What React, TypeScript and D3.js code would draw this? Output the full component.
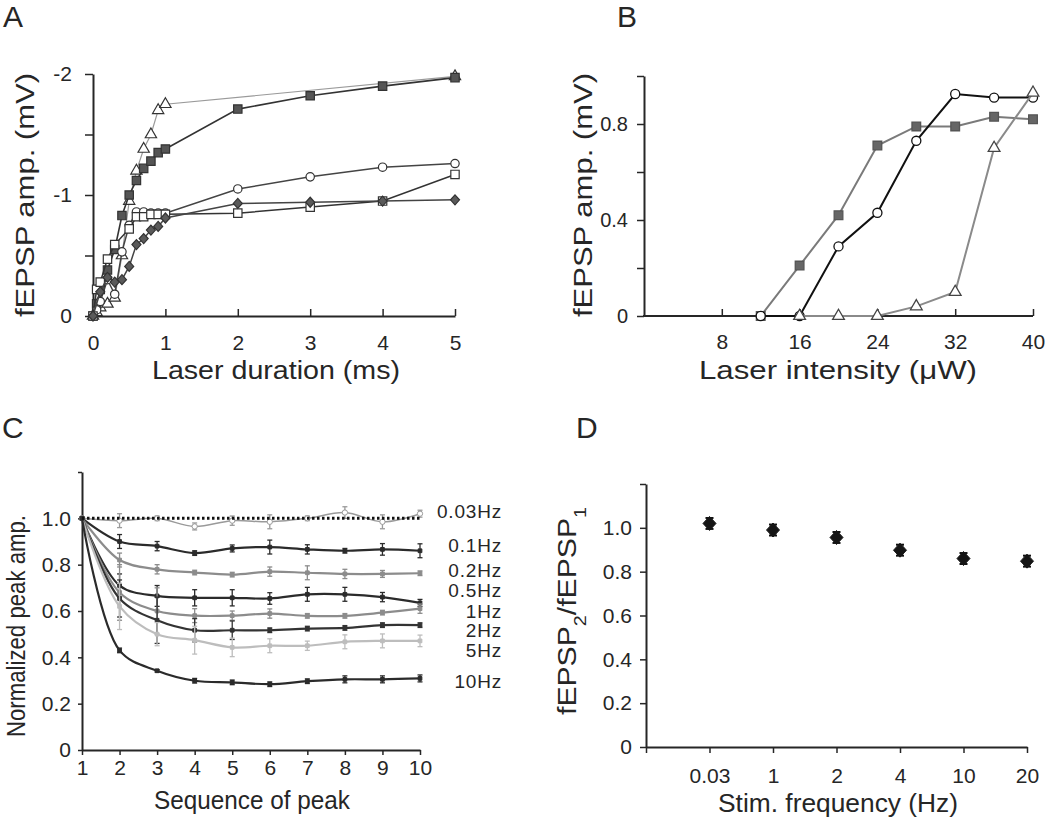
import React, { useEffect, useRef } from 'react';
import * as d3 from 'd3';

// ---- Panel A: fEPSP amplitude vs laser duration (ms) ----
const aTriX = [0, 0.05, 0.1, 0.2, 0.3, 0.4, 0.5, 0.6, 0.7, 0.8, 0.9, 1, 5];
const aTriY = [0, -0.03, -0.07, -0.1, -0.15, -0.5, -0.95, -1.2, -1.38, -1.5, -1.7, -1.75, -1.98];
const aSqX = [0, 0.05, 0.1, 0.2, 0.3, 0.4, 0.5, 0.6, 0.7, 0.8, 0.9, 1, 2, 3, 4, 5];
const aSqY = [0, -0.1, -0.22, -0.38, -0.55, -0.83, -1.0, -1.12, -1.22, -1.28, -1.35, -1.38, -1.71, -1.82, -1.9, -1.97];
const aCircX = [0, 0.05, 0.1, 0.2, 0.3, 0.4, 0.5, 0.6, 0.7, 0.8, 0.9, 1, 2, 3, 4, 5];
const aCircY = [0, -0.05, -0.12, -0.3, -0.18, -0.53, -0.75, -0.86, -0.86, -0.85, -0.85, -0.85, -1.05, -1.15, -1.23, -1.26];
const aOSqX = [0, 0.05, 0.1, 0.2, 0.3, 0.5, 0.6, 0.7, 0.8, 0.9, 1, 2, 3, 4, 5];
const aOSqY = [0, -0.22, -0.28, -0.47, -0.59, -0.72, -0.82, -0.82, -0.84, -0.84, -0.84, -0.85, -0.9, -0.95, -1.17];
const aDiaX = [0, 0.1, 0.2, 0.3, 0.4, 0.5, 0.6, 0.7, 0.8, 0.9, 1, 2, 3, 4, 5];
const aDiaY = [0, -0.2, -0.32, -0.28, -0.3, -0.41, -0.59, -0.64, -0.71, -0.74, -0.81, -0.93, -0.94, -0.95, -0.96];
const aXTicks = [0, 1, 2, 3, 4, 5];
const aYTicks = [0, -0.5, -1, -1.5, -2];

// ---- Panel B: fEPSP amplitude vs laser intensity (uW) ----
const bX = [12, 16, 20, 24, 28, 32, 36, 40];
const bSq = [0, 0.21, 0.42, 0.71, 0.79, 0.79, 0.83, 0.82];
const bCirc = [0, 0, 0.29, 0.43, 0.73, 0.925, 0.91, 0.91];
const bTriX = [16, 20, 24, 28, 32, 36, 40];
const bTri = [0, 0, 0, 0.04, 0.1, 0.7, 0.93];
const bXTicks = [8, 16, 24, 32, 40];
const bYTicks = [0, 0.2, 0.4, 0.6, 0.8, 1.0];

// ---- Panel C: normalized peak amplitude vs sequence of peak ----
const seq = [1, 2, 3, 4, 5, 6, 7, 8, 9, 10];
const cNames = ['0.03Hz', '0.1Hz', '0.2Hz', '0.5Hz', '1Hz', '2Hz', '5Hz', '10Hz'];
const c003 = [1.0, 0.99, 1.0, 0.965, 0.99, 0.985, 1.0, 1.025, 0.985, 1.02];
const c003e = [0, 0.03, 0.01, 0.015, 0.02, 0.03, 0.01, 0.025, 0.03, 0.015];
const c01 = [1, 0.9, 0.88, 0.85, 0.87, 0.876, 0.866, 0.86, 0.866, 0.86];
const c01e = [0, 0.03, 0.02, 0.01, 0.015, 0.03, 0.02, 0.01, 0.025, 0.03];
const c02 = [1, 0.82, 0.78, 0.766, 0.757, 0.77, 0.765, 0.76, 0.76, 0.763];
const c02e = [0, 0.03, 0.02, 0.01, 0.01, 0.02, 0.03, 0.02, 0.015, 0.01];
const c05 = [1, 0.71, 0.665, 0.657, 0.657, 0.654, 0.672, 0.672, 0.66, 0.635];
const c05e = [0, 0.05, 0.045, 0.035, 0.035, 0.025, 0.03, 0.03, 0.02, 0.015];
const c1 = [1, 0.68, 0.6, 0.58, 0.58, 0.589, 0.579, 0.579, 0.593, 0.61];
const c1e = [0, 0.12, 0.1, 0.03, 0.02, 0.02, 0.01, 0.01, 0.01, 0.02];
const c2 = [1, 0.654, 0.56, 0.517, 0.517, 0.517, 0.524, 0.527, 0.539, 0.539];
const c2e = [0, 0.08, 0.1, 0.05, 0.04, 0.01, 0.01, 0.01, 0.01, 0.01];
const c5 = [1, 0.62, 0.5, 0.474, 0.443, 0.45, 0.45, 0.467, 0.471, 0.471];
const c5e = [0, 0.1, 0.05, 0.06, 0.04, 0.03, 0.02, 0.03, 0.03, 0.025];
const c10 = [1, 0.43, 0.342, 0.299, 0.292, 0.284, 0.297, 0.305, 0.305, 0.309];
const c10e = [0, 0.01, 0.005, 0.01, 0.01, 0.01, 0.01, 0.015, 0.015, 0.015];
const cLabelAt = [1.03, 0.884, 0.776, 0.69, 0.6, 0.515, 0.428, 0.297];
const cYTicks = [0, 0.2, 0.4, 0.6, 0.8, 1.0, 1.2];

// ---- Panel D: paired-pulse ratio vs stimulation frequency ----
const dCats = ['0.03', '1', '2', '4', '10', '20'];
const dVals = [1.02, 0.99, 0.956, 0.898, 0.86, 0.848];
const dErrs = [0.025, 0.025, 0.025, 0.025, 0.025, 0.025];
const dYTicks = [0, 0.2, 0.4, 0.6, 0.8, 1.0, 1.2];

const FONT = '"Liberation Sans", Arial, Helvetica, sans-serif';
const INK = '#262626';

// diamond marker with independent half-width / half-height
const diamond = (hw: number, hh: number) => `M0,${-hh}L${hw},0L0,${hh}L${-hw},0Z`;

const App: React.FC = () => {
  const svgRef = useRef<SVGSVGElement>(null);

  useEffect(() => {
    if (!svgRef.current) return;
    const svg = d3.select(svgRef.current);
    svg.selectAll('*').remove();
    svg.append('rect').attr('width', 1050).attr('height', 827).attr('fill', '#fff');

    const styleAxis = (g: any, fs: number) => {
      g.select('.domain').attr('stroke', INK).attr('stroke-width', 2);
      g.selectAll('.tick line').attr('stroke', INK).attr('stroke-width', 1.5);
      g.selectAll('.tick text')
        .attr('fill', INK)
        .style('font-size', `${fs}px`)
        .style('font-family', FONT);
    };

    const title = (x: number, y: number, txt: string, size: number, len: number, rot = false) => {
      const t = svg.append('text')
        .attr('transform', rot ? `translate(${x},${y}) rotate(-90)` : `translate(${x},${y})`)
        .attr('text-anchor', 'middle')
        .attr('fill', INK)
        .style('font-family', FONT)
        .style('font-size', `${size}px`)
        .attr('textLength', len)
        .attr('lengthAdjust', 'spacingAndGlyphs')
        .text(txt);
      return t;
    };

    const letter = (x: number, y: number, txt: string) => {
      svg.append('text').attr('x', x).attr('y', y).attr('fill', INK)
        .style('font-family', FONT).style('font-size', '30px').text(txt);
    };

    const sym = (type: d3.SymbolType, size: number) => d3.symbol().type(type).size(size)();

    // ================= Panel A =================
    {
      const x = d3.scaleLinear().domain([0, 5]).range([93, 455]);
      const y = d3.scaleLinear().domain([0, -2]).range([316, 74]);
      const gx = svg.append('g').attr('transform', 'translate(0,316)')
        .call(d3.axisBottom(x).tickValues(aXTicks).tickSizeInner(-7).tickSizeOuter(0).tickPadding(19).tickFormat(d => String(d)));
      styleAxis(gx, 21);
      const gy = svg.append('g').attr('transform', 'translate(93,0)')
        .call(d3.axisLeft(y).tickValues(aYTicks).tickSizeInner(8).tickSizeOuter(0).tickPadding(13)
          .tickFormat(d => (Number.isInteger(+d) ? String(d) : '')));
      styleAxis(gy, 21);

      const series = [
        { xs: aTriX, ys: aTriY, line: '#9a9a9a', lw: 1.2, d: sym(d3.symbolTriangle, 55), fill: '#fff', stroke: '#333' },
        { xs: aSqX, ys: aSqY, line: '#333', lw: 1.6, d: sym(d3.symbolSquare, 70), fill: '#555', stroke: '#333' },
        { xs: aCircX, ys: aCircY, line: '#444', lw: 1.5, d: sym(d3.symbolCircle, 55), fill: '#fff', stroke: '#333' },
        { xs: aOSqX, ys: aOSqY, line: '#333', lw: 1.5, d: sym(d3.symbolSquare, 70), fill: '#fff', stroke: '#333' },
        { xs: aDiaX, ys: aDiaY, line: '#444', lw: 1.5, d: diamond(4.5, 5), fill: '#5a5a5a', stroke: '#333' },
      ];
      series.forEach(s => {
        const pts = s.xs.map((v, i) => [v, s.ys[i]] as [number, number]);
        svg.append('path').datum(pts)
          .attr('d', d3.line().x(d => x(d[0])).y(d => y(d[1])))
          .attr('fill', 'none').attr('stroke', s.line).attr('stroke-width', s.lw);
        svg.append('g').selectAll('path').data(pts).join('path')
          .attr('transform', d => `translate(${x(d[0])},${y(d[1])})`)
          .attr('d', s.d)
          .attr('fill', s.fill).attr('stroke', s.stroke).attr('stroke-width', 1.2);
      });

      title(34, 195, 'fEPSP amp. (mV)', 26, 244, true);
      title(276, 379, 'Laser duration (ms)', 26, 248);
      letter(3, 27, 'A');
    }

    // ================= Panel B =================
    {
      const x = d3.scaleLinear().domain([0, 40]).range([644, 1033]);
      const y = d3.scaleLinear().domain([0, 1]).range([316, 76]);
      const gx = svg.append('g').attr('transform', 'translate(0,316)')
        .call(d3.axisBottom(x).tickValues(bXTicks).tickSizeInner(-7).tickSizeOuter(0).tickPadding(18).tickFormat(d => String(d)));
      gx.select('.domain').attr('d', `M${x(0) - 1},0H${x(40)}`);
      styleAxis(gx, 21);
      const gy = svg.append('g').attr('transform', 'translate(644,0)')
        .call(d3.axisLeft(y).tickValues(bYTicks).tickSizeInner(7).tickSizeOuter(0).tickPadding(9)
          .tickFormat(d => (+d === 0 ? '0' : [0.4, 0.8].some(v => Math.abs(v - +d) < 1e-6) ? d3.format('.1f')(+d) : '')));
      styleAxis(gy, 20);

      const series = [
        { xs: bX, ys: bSq, line: '#7a7a7a', d: sym(d3.symbolSquare, 75), fill: '#666', stroke: '#555' },
        { xs: bX, ys: bCirc, line: '#111', d: sym(d3.symbolCircle, 65), fill: '#fff', stroke: '#111' },
        { xs: bTriX, ys: bTri, line: '#8a8a8a', d: sym(d3.symbolTriangle, 60), fill: '#fff', stroke: '#444' },
      ];
      series.forEach(s => {
        const pts = s.xs.map((v, i) => [v, s.ys[i]] as [number, number]);
        svg.append('path').datum(pts)
          .attr('d', d3.line().x(d => x(d[0])).y(d => y(d[1])))
          .attr('fill', 'none').attr('stroke', s.line).attr('stroke-width', 2);
        svg.append('g').selectAll('path').data(pts).join('path')
          .attr('transform', d => `translate(${x(d[0])},${y(d[1])})`)
          .attr('d', s.d)
          .attr('fill', s.fill).attr('stroke', s.stroke).attr('stroke-width', 1.3);
      });

      title(592, 195, 'fEPSP amp. (mV)', 25, 244, true);
      const t = title(838, 379, '', 26, 278);
      t.append('tspan').text('Laser intensity (');
      t.append('tspan').text('\u03bc');
      t.append('tspan').text('W)');
      letter(617, 27, 'B');
    }

    // ================= Panel C =================
    {
      const x = d3.scaleLinear().domain([1, 10]).range([82, 420]);
      const y = d3.scaleLinear().domain([0, 1.2]).range([750, 472]);
      const gx = svg.append('g').attr('transform', 'translate(0,750)')
        .call(d3.axisBottom(x).tickValues(seq).tickSizeInner(5).tickSizeOuter(0).tickPadding(5).tickFormat(d => String(d)));
      styleAxis(gx, 21);
      const gy = svg.append('g').attr('transform', 'translate(82,0)')
        .call(d3.axisLeft(y).tickValues(cYTicks).tickSizeInner(4).tickSizeOuter(0).tickPadding(7)
          .tickFormat(d => (+d === 0 ? '0' : +d > 1.1 ? '' : d3.format('.1f')(+d))));
      styleAxis(gy, 21);

      const vals = [c003, c01, c02, c05, c1, c2, c5, c10];
      const errs = [c003e, c01e, c02e, c05e, c1e, c2e, c5e, c10e];
      const colors = ['#9a9a9a', '#2b2b2b', '#8c8c8c', '#2b2b2b', '#8c8c8c', '#333', '#bdbdbd', '#2b2b2b'];
      const line = d3.line<number>().x((_, i) => x(seq[i])).y(d => y(d)).curve(d3.curveCatmullRom.alpha(0.5));

      vals.forEach((vs, k) => {
        const col = colors[k];
        svg.append('path').datum(vs).attr('d', line)
          .attr('fill', 'none').attr('stroke', col).attr('stroke-width', k === 0 ? 1.5 : 2.2);
        const eg = svg.append('g').attr('stroke', col).attr('stroke-width', 1.3);
        vs.forEach((v, i) => {
          const e = errs[k][i];
          if (e <= 0) return;
          const cx = x(seq[i]);
          eg.append('line').attr('x1', cx).attr('x2', cx).attr('y1', y(v - e)).attr('y2', y(v + e));
          eg.append('line').attr('x1', cx - 2.5).attr('x2', cx + 2.5).attr('y1', y(v - e)).attr('y2', y(v - e));
          eg.append('line').attr('x1', cx - 2.5).attr('x2', cx + 2.5).attr('y1', y(v + e)).attr('y2', y(v + e));
        });
        svg.append('g').selectAll('path').data(vs).join('path')
          .attr('transform', (d, i) => `translate(${x(seq[i])},${y(d)})`)
          .attr('d', sym(k === 0 ? d3.symbolCircle : d3.symbolSquare, k === 0 ? 22 : 14))
          .attr('fill', k === 0 ? '#fff' : col).attr('stroke', col).attr('stroke-width', 1);
      });

      // dotted reference at 1.0
      svg.append('line').attr('x1', x(1)).attr('x2', x(10)).attr('y1', y(1)).attr('y2', y(1))
        .attr('stroke', '#111').attr('stroke-width', 3).attr('stroke-dasharray', '2.5,2.5');

      svg.append('g').selectAll('text').data(cNames).join('text')
        .attr('x', 502).attr('y', (_, i) => y(cLabelAt[i]))
        .attr('dy', '0.35em').attr('text-anchor', 'end')
        .attr('fill', INK).style('font-family', FONT).style('font-size', '19px')
        .style('letter-spacing', '0.8px')
        .text(d => d);

      title(25, 626, 'Normalized peak amp.', 26, 222, true);
      title(252, 809, 'Sequence of peak', 26, 196);
      letter(2, 438, 'C');
    }

    // ================= Panel D =================
    {
      const xi = d3.scaleLinear().domain([0, dCats.length]).range([646, 1027]);
      const y = d3.scaleLinear().domain([0, 1.2]).range([747, 484]);
      const idx = d3.range(0, dCats.length + 1);
      const gx = svg.append('g').attr('transform', 'translate(0,747)')
        .call(d3.axisBottom(xi).tickValues(idx).tickSizeInner(6).tickSizeOuter(0).tickPadding(15)
          .tickFormat(d => (+d === 0 ? '' : dCats[+d - 1])));
      styleAxis(gx, 21);
      const gy = svg.append('g').attr('transform', 'translate(646,0)')
        .call(d3.axisLeft(y).tickValues(dYTicks).tickSizeInner(6).tickSizeOuter(0).tickPadding(8)
          .tickFormat(d => (+d === 0 ? '0' : +d > 1.1 ? '' : d3.format('.1f')(+d))));
      styleAxis(gy, 21);

      const eg = svg.append('g').attr('stroke', '#111').attr('stroke-width', 2);
      dVals.forEach((v, i) => {
        const cx = xi(i + 1);
        const e = dErrs[i];
        eg.append('line').attr('x1', cx).attr('x2', cx).attr('y1', y(v - e)).attr('y2', y(v + e));
        eg.append('line').attr('x1', cx - 4).attr('x2', cx + 4).attr('y1', y(v - e)).attr('y2', y(v - e));
        eg.append('line').attr('x1', cx - 4).attr('x2', cx + 4).attr('y1', y(v + e)).attr('y2', y(v + e));
      });
      svg.append('g').selectAll('path').data(dVals).join('path')
        .attr('transform', (d, i) => `translate(${xi(i + 1)},${y(d)})`)
        .attr('d', diamond(6.5, 7))
        .attr('fill', '#151515').attr('stroke', '#151515');

      const t = title(576, 611, '', 26, 208, true);
      t.append('tspan').text('fEPSP');
      t.append('tspan').attr('baseline-shift', 'sub').style('font-size', '17px').text('2');
      t.append('tspan').text('/fEPSP');
      t.append('tspan').attr('baseline-shift', 'sub').style('font-size', '17px').text('1');
      title(838, 812, 'Stim. frequency (Hz)', 26, 240);
      letter(576, 438, 'D');
    }
  }, []);

  return (
    <svg
      ref={svgRef}
      width={1050}
      height={827}
      viewBox="0 0 1050 827"
      style={{ position: 'absolute', left: 0, top: 0, display: 'block' }}
    />
  );
};

export default App;
